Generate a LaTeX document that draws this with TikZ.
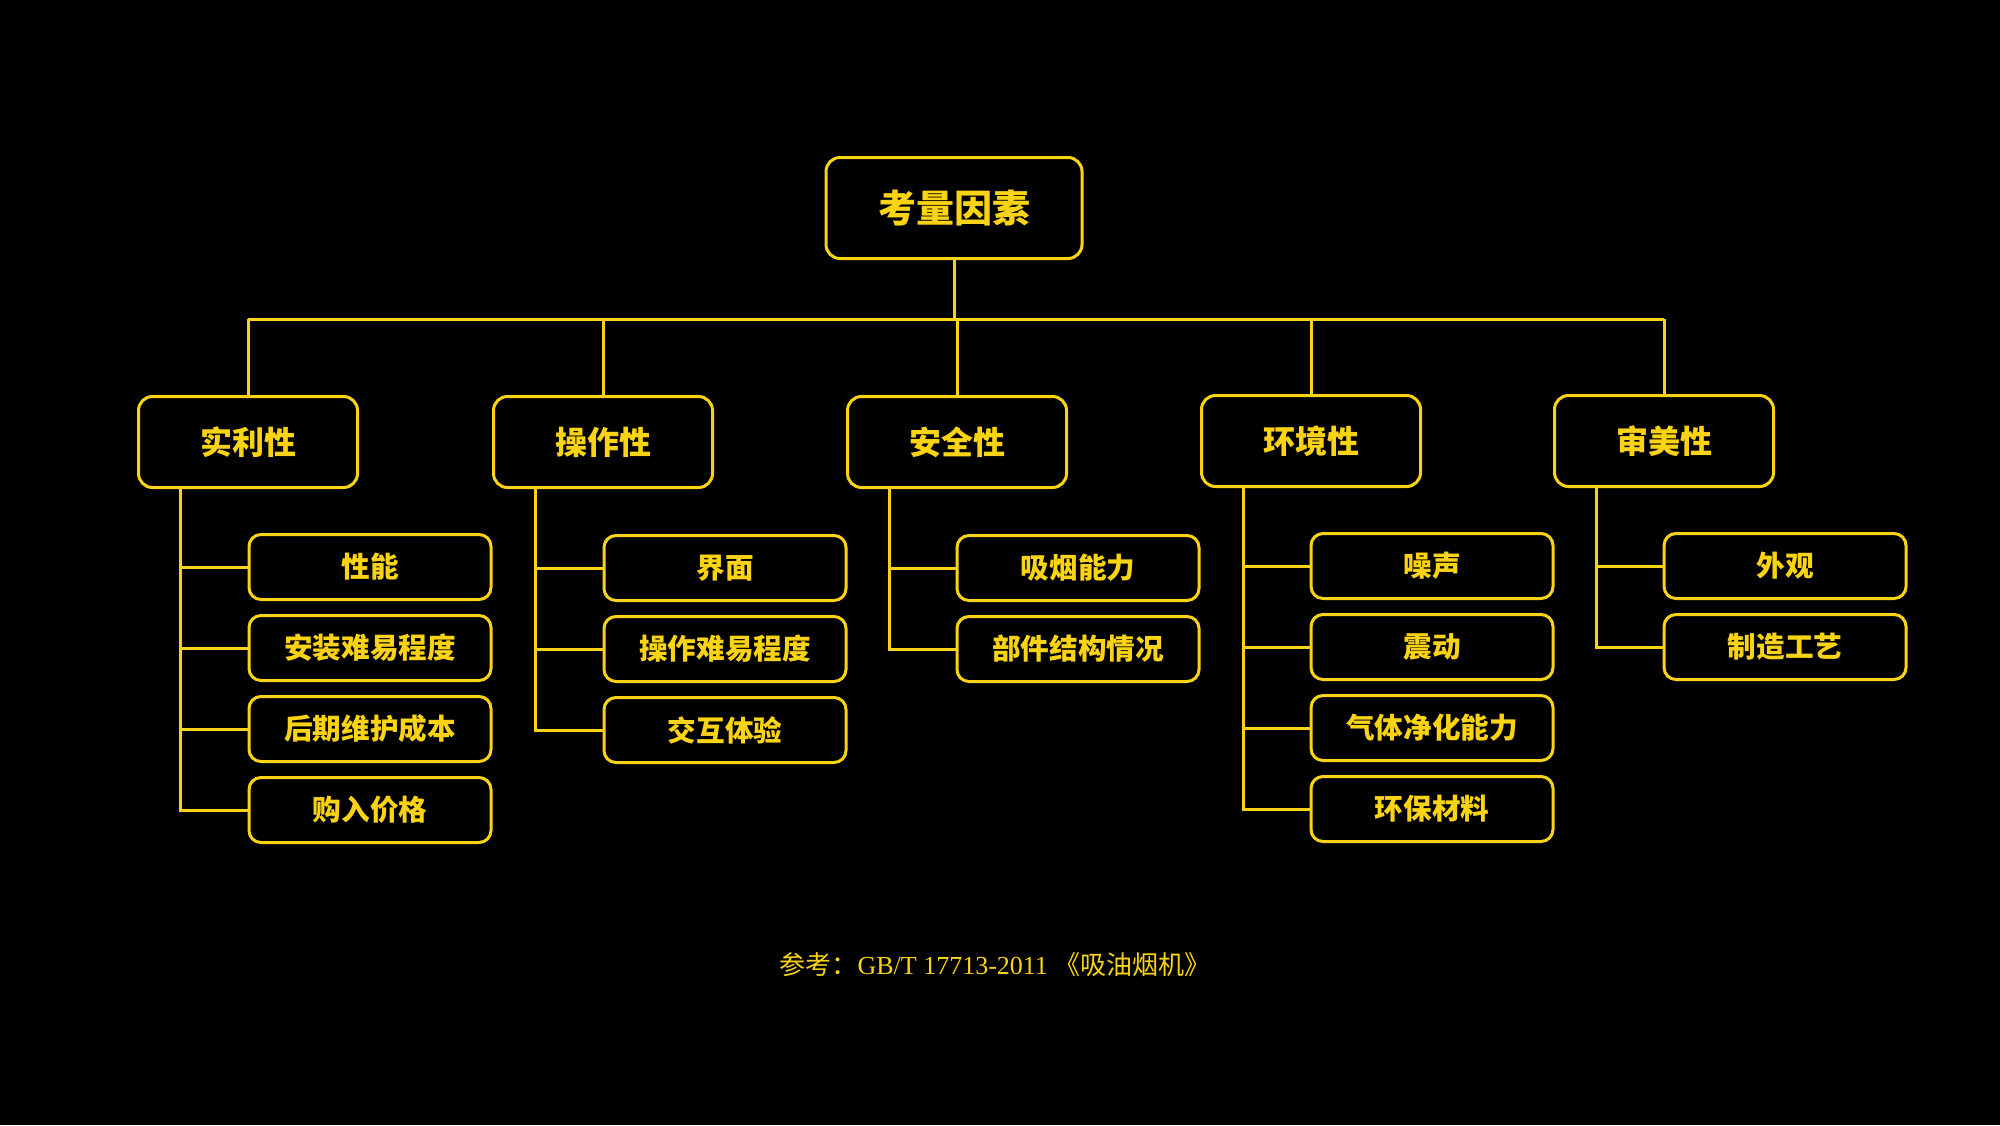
\documentclass[tikz,border=0pt]{standalone}
\usepackage{fontspec}
\setmainfont{Liberation Serif}
\newfontfamily\cjk{Noto Sans CJK SC}
\usetikzlibrary{positioning}
\definecolor{gold}{RGB}{250,212,20}
\tikzset{
  root/.style={draw=gold, line width=1.5pt, rounded corners=7pt, minimum width=128pt, minimum height=50.5pt, text=gold, font=\cjk\bfseries\fontsize{19}{19}\selectfont},
  cat/.style={draw=gold, line width=1.5pt, rounded corners=7pt, minimum width=109.5pt, minimum height=45.5pt, text=gold, font=\cjk\bfseries\fontsize{16}{16}\selectfont},
  leaf/.style={draw=gold, line width=1.5pt, rounded corners=6pt, minimum width=121pt, minimum height=32.5pt, text=gold, font=\cjk\bfseries\fontsize{14.3}{14.3}\selectfont},
  link/.style={draw=gold, line width=1.5pt}
}

\begin{document}
\begin{tikzpicture}[x=0.5pt, y=-0.5pt, node distance=40.5pt, on grid]
	\fill[black] (0,0) rectangle (2000,1125);
	\useasboundingbox (0,0) rectangle (2000,1125);

	\node[root] (top) at (954,208) {考量因素};
	\coordinate (busl) at (248,319);
	\coordinate (busr) at (1664,319);

	\node[cat] (sl) at (248,442) {实利性};
	\node[cat] (cz) at (603,442) {操作性};
	\node[cat] (aq) at (957,442) {安全性};
	\node[cat] (hj) at (1311,441) {环境性};
	\node[cat] (sm) at (1664,441) {审美性};

	% 实利性
	\node[leaf] (sl1) at (370,567) {性能};
	\node[leaf] (sl2) [below=of sl1] {安装难易程度};
	\node[leaf] (sl3) [below=of sl2] {后期维护成本};
	\node[leaf] (sl4) [below=of sl3] {购入价格};

	% 操作性
	\node[leaf] (cz1) at (725,568) {界面};
	\node[leaf] (cz2) [below=of cz1] {操作难易程度};
	\node[leaf] (cz3) [below=of cz2] {交互体验};

	% 安全性
	\node[leaf] (aq1) at (1078,568) {吸烟能力};
	\node[leaf] (aq2) [below=of aq1] {部件结构情况};

	% 环境性
	\node[leaf] (hj1) at (1432,566) {噪声};
	\node[leaf] (hj2) [below=of hj1] {震动};
	\node[leaf] (hj3) [below=of hj2] {气体净化能力};
	\node[leaf] (hj4) [below=of hj3] {环保材料};

	% 审美性
	\node[leaf] (sm1) at (1785,566) {外观};
	\node[leaf] (sm2) [below=of sm1] {制造工艺};

	\path[link]
		(top.south) -- (top.south |- busl)
		(busl) -- (busr);
	\foreach \c in {sl,cz,aq,hj,sm}
		\draw[link] (\c.north) -- (\c.north |- busl);

	\foreach \c/\n in {sl/1,sl/2,sl/3,sl/4,cz/1,cz/2,cz/3,aq/1,aq/2,hj/1,hj/2,hj/3,hj/4,sm/1,sm/2}
		\draw[link] ([xshift=21.5pt]\c.south west) |- (\c\n.west);

	\node[text=gold, font=\fontsize{13}{13}\selectfont] (ref) at (995,965) {{\cjk 参考：}GB/T 17713-2011 {\cjk 《吸油烟机》}};
\end{tikzpicture}
\end{document}
